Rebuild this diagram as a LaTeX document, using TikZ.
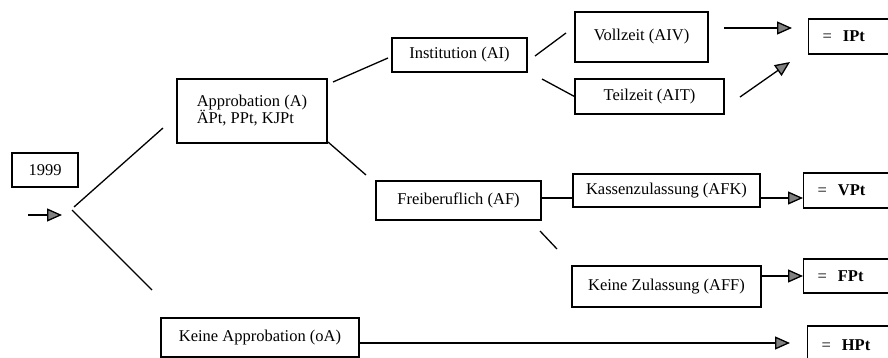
\documentclass[tikz,border=0pt]{standalone}
\usepackage{fontspec}
\setmainfont{Liberation Serif}
\usetikzlibrary{arrows.meta}
\begin{document}
\begin{tikzpicture}[x=1pt,y=-1pt,
  box/.style={draw, line width=1.1pt, inner sep=0pt, font=\fontsize{16.5}{17}\selectfont},
  res/.style={box, anchor=west, align=left, text width=80pt, inner xsep=14pt, inner ysep=0pt},
  conn/.style={line width=1.3pt},
  arr/.style={line width=1.3pt, -{Triangle[length=15pt,width=13pt,fill=black!50]}}]
\clip (0,0) rectangle (888,358);
\fill[white] (0,0) rectangle (888,358);
% nodes
\node[box, minimum width=66, minimum height=34] (y99) at (45,170) {1999};
\node[box, minimum width=150, minimum height=64, align=left] (A) at (252,111) {Approbation (A)\\ÄPt, PPt, KJPt};
\node[box, minimum width=135, minimum height=34] (AI) at (459.5,55) {Institution (AI)};
\node[box, minimum width=133, minimum height=50] (AIV) at (641.5,37) {Vollzeit (AIV)};
\node[box, minimum width=149, minimum height=35] (AIT) at (649.5,96.5) {Teilzeit (AIT)};
\node[box, minimum width=165, minimum height=39] (AF) at (458.5,200.5) {Freiberuflich (AF)};
\node[box, minimum width=187, minimum height=33] (AFK) at (666.5,190.5) {Kassenzulassung (AFK)};
\node[box, minimum width=189, minimum height=41] (AFF) at (666.5,286.5) {Keine Zulassung (AFF)};
\node[box, minimum width=198, minimum height=39] (oA) at (260,337.5) {Keine Approbation (oA)};
\node[res, minimum height=35] (IPt) at (808,36.5) {=\ \ \textbf{IPt}};
\node[res, minimum height=35] (VPt) at (803,190.5) {=\ \ \textbf{VPt}};
\node[res, minimum height=34] (FPt) at (803,276) {=\ \ \textbf{FPt}};
\node[res, minimum height=38] (HPt) at (807,345) {=\ \ \textbf{HPt}};
% coordinates for free ends
\coordinate (s0) at (28,215); \coordinate (s1) at (62,215);
\coordinate (fu0) at (74,207); \coordinate (fu1) at (163,128);
\coordinate (fl0) at (72,210); \coordinate (fl1) at (152,290);
\coordinate (a0) at (333,82); \coordinate (a1) at (388,58);
\coordinate (b0) at (328,142); \coordinate (b1) at (366,175);
\coordinate (c0) at (535,56); \coordinate (c1) at (566,33);
\coordinate (d0) at (542,79);
\coordinate (e0) at (724,28); \coordinate (e1) at (792,28);
\coordinate (g0) at (740,97); \coordinate (g1) at (790,62);
\coordinate (kf) at (0,198);
\coordinate (h0) at (540,231); \coordinate (h1) at (557,249);
\coordinate (ha) at (0,343); \coordinate (h2) at (790,343);
% connectors
\draw[arr] (s0) -- (s1);
\draw[conn] (fu0) -- (fu1);
\draw[conn] (fl0) -- (fl1);
\draw[conn] (a0) -- (a1);
\draw[conn] (b0) -- (b1);
\draw[conn] (c0) -- (c1);
\draw[conn] (d0) -- (AIT.west);
\draw[arr] (e0) -- (e1);
\draw[arr] (g0) -- (g1);
\draw[conn] (AF.east |- kf) -- (AFK.west |- kf);
\draw[arr] (AFK.east |- kf) -- (VPt.west |- kf);
\draw[conn] (h0) -- (h1);
\draw[arr] (AFF.east |- FPt.west) -- (FPt.west);
\draw[arr] (oA.east |- ha) -- (h2);
\end{tikzpicture}
\end{document}
